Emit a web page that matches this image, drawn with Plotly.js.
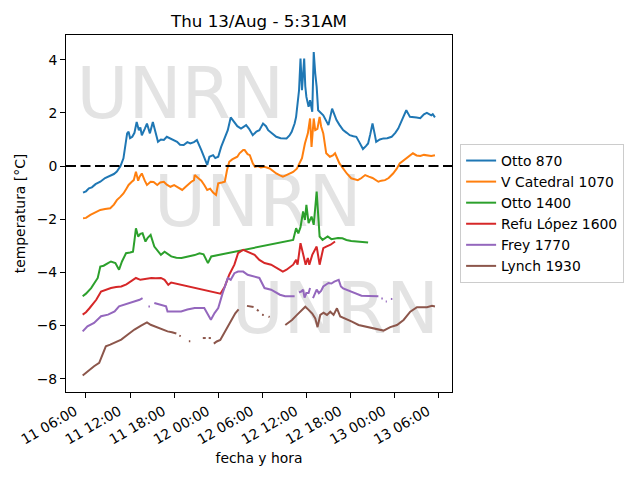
<!DOCTYPE html>
<html>
<head>
<meta charset="utf-8">
<script src="https://cdn.plot.ly/plotly-3.0.1.min.js"></script>
<style>html,body{margin:0;padding:0;background:#fff}#chart{width:640px;height:480px}</style>
</head>
<body>
<div id="chart"></div>
<script>
// Time values: hours since 2020-08-11 00:00 (local station time)
const seriesNames = ["Otto 870", "V Catedral 1070", "Otto 1400", "Refu López 1600", "Frey 1770", "Lynch 1930"];
const seriesColors = ["#1f77b4", "#ff7f0e", "#2ca02c", "#d62728", "#9467bd", "#8c564b"];

const otto870_h = [5.6,6.0,6.4,6.8,7.3,7.95,8.6,9.3,9.8,10.2,10.7,11.1,11.6,11.8,12.0,12.3,12.6,12.9,13.2,13.4,13.6,14.0,14.3,14.7,15.1,15.5,15.8,16.2,16.6,17.0,17.5,18.0,18.4,18.8,19.3,19.8,20.2,20.7,21.1,21.7,22.1,22.5,22.8,23.3,23.6,24.0,24.4,24.9,25.3,25.7,26.2,26.6,27.1,27.5,27.8,28.2,28.7,29.2,29.6,30.1,30.5,30.8,31.3,31.9,32.5,33.3,33.7,34.0,34.4,34.6,35.0,35.2,35.4,35.55,35.7,35.85,36.0,36.3,36.5,36.8,37.0,37.2,37.4,37.6,38.3,38.7,39.0,39.5,40.1,40.5,41.0,41.5,41.9,42.4,42.8,43.2,43.7,44.1,44.4,44.7,45.0,45.3,45.5,46.0,46.5,47.0,47.6,48.1,48.5,49.2,49.6,50.1,50.5,51.0,51.5,52.0,52.4,53.0,53.2,53.5];
const otto870_t = [-1.0,-0.95,-0.84,-0.80,-0.68,-0.59,-0.45,-0.38,-0.30,-0.21,0.0,0.29,1.23,1.29,1.05,1.10,1.25,1.66,1.35,1.45,1.16,1.40,1.60,1.23,1.66,1.23,0.91,1.00,0.98,1.10,1.04,0.95,0.91,0.80,0.79,0.90,0.85,0.90,0.98,0.60,0.35,0.04,0.35,0.41,0.30,0.35,0.72,1.10,1.35,1.83,1.66,1.50,1.41,1.50,1.54,1.40,1.16,1.30,1.35,1.60,1.50,1.35,1.25,1.10,1.05,1.04,1.15,1.29,1.60,1.85,2.85,4.04,2.85,3.5,4.04,3.0,2.6,2.23,2.48,2.04,4.29,3.5,2.98,2.10,1.91,1.70,1.54,2.16,1.73,1.55,1.35,1.25,1.16,1.12,1.10,0.90,0.64,0.75,0.85,1.2,1.60,1.2,0.91,1.00,1.04,1.05,1.10,1.25,1.41,1.85,2.10,1.85,1.85,1.83,1.80,1.95,2.00,1.91,1.95,1.83];

const catedral_h = [5.6,6.0,6.6,7.3,7.95,8.6,9.3,9.8,10.2,10.7,11.1,11.5,11.8,12.2,12.5,12.8,13.1,13.3,13.6,14.0,14.3,14.8,15.2,15.7,16.1,16.6,17.0,17.5,18.0,18.4,19.1,19.5,19.8,20.3,20.7,20.8,21.3,21.7,22.1,22.5,22.9,23.3,23.7,24.0,24.5,24.9,25.2,25.5,25.9,26.2,26.6,26.9,27.4,27.6,28.0,28.3,28.7,29.0,29.4,29.8,30.3,31.0,31.5,31.9,32.4,32.8,33.2,33.7,34.2,34.7,35.1,35.4,35.8,36.2,36.5,36.7,37.0,37.2,37.5,37.8,38.0,38.3,38.7,39.2,39.6,39.9,40.5,41.0,41.5,42.1,42.5,43.0,43.5,44.0,44.5,45.0,45.8,46.2,46.7,47.2,47.8,48.3,48.7,49.2,49.6,50.0,50.5,51.0,51.5,52.0,52.6,53.0,53.5];
const catedral_t = [-1.96,-1.95,-1.84,-1.75,-1.65,-1.62,-1.59,-1.45,-1.28,-1.15,-1.03,-0.85,-0.71,-0.60,-0.53,-0.21,-0.55,-0.40,-0.28,-0.55,-0.71,-0.59,-0.60,-0.71,-0.62,-0.59,-0.70,-0.78,-0.72,-0.78,-0.90,-0.80,-0.71,-0.60,-0.53,-0.34,-0.46,-0.55,-0.71,-0.90,-0.85,-1.00,-1.09,-0.65,-0.62,-0.59,-0.15,0.16,0.25,0.29,0.35,0.48,0.60,0.60,0.45,0.41,0.10,-0.03,0.0,-0.05,-0.03,-0.09,-0.20,-0.28,-0.35,-0.40,-0.35,-0.28,-0.22,-0.10,0.10,0.3,0.85,1.23,1.79,0.72,1.79,1.35,1.4,1.85,1.5,1.23,0.48,0.35,0.40,0.48,0.10,-0.10,-0.28,-0.46,-0.50,-0.53,-0.45,-0.34,-0.40,-0.45,-0.59,-0.55,-0.53,-0.45,-0.28,-0.10,0.10,0.20,0.29,0.35,0.48,0.40,0.38,0.42,0.41,0.38,0.41];

const otto1400_h = [5.55,6.0,6.7,7.2,7.6,7.95,8.4,9.0,9.4,10.0,10.5,10.9,11.45,12.0,12.4,12.6,12.8,13.1,13.4,13.7,14.1,14.4,14.8,15.3,15.7,16.2,16.7,17.1,17.6,18.3,19.0,19.6,20.1,20.8,21.45,22.0,22.6,23.05,34.2,34.6,34.9,35.2,35.55,35.8,36.0,36.3,36.7,37.0,37.4,37.8,38.2,38.6,38.9,39.4,40.3,40.9,41.45,42.1,42.8,43.5,44.4];
const otto1400_t = [-4.90,-4.80,-4.59,-4.40,-4.21,-3.78,-3.75,-3.65,-3.59,-3.65,-3.90,-3.59,-3.28,-3.25,-3.22,-2.80,-2.34,-2.65,-2.55,-2.53,-2.84,-2.70,-2.59,-3.03,-3.15,-3.34,-3.22,-3.30,-3.40,-3.45,-3.46,-3.42,-3.40,-3.35,-3.28,-3.32,-3.65,-3.40,-2.78,-2.34,-2.53,-2.3,-1.71,-2.03,-1.46,-2.15,-1.90,-2.21,-0.96,-2.65,-2.78,-2.70,-2.65,-2.75,-2.71,-2.72,-2.78,-2.82,-2.84,-2.86,-2.88];

const lopez_h = [5.55,6.0,6.5,7.0,7.4,8.05,8.7,9.4,10.1,10.8,11.5,12.1,12.8,13.4,14.1,14.9,15.5,16.2,16.7,17.2,17.6,24.3,24.9,25.5,26.2,26.7,27.4,28.0,28.95,29.6,30.3,31.2,32.1,32.8,33.3,34.2,34.6,34.8,35.2,35.5,35.9,36.2,36.4,36.8,37.4,37.8,38.3,38.7,39.3,39.9];
const lopez_t = [-5.59,-5.50,-5.34,-5.15,-5.03,-4.72,-4.65,-4.59,-4.55,-4.53,-4.45,-4.34,-4.21,-4.28,-4.25,-4.21,-4.22,-4.21,-4.28,-4.47,-4.38,-4.80,-4.53,-4.09,-3.71,-3.28,-3.15,-3.22,-3.34,-3.53,-3.65,-3.71,-3.84,-3.97,-3.90,-3.71,-3.53,-3.71,-2.90,-3.22,-3.71,-3.46,-3.71,-3.34,-3.03,-3.71,-3.09,-3.03,-2.96,-2.84];

const frey_h = [5.55,6.2,7.1,8.05,9.0,9.9,10.5,11.2,12.1,12.8,13.3,13.7,14.0,14.5,14.7,14.9,15.3,16.2,16.9,17.1,18.0,18.95,19.8,20.8,22.1,22.6,23.0,23.5,24.0,24.6,25.3,25.7,26.2,26.7,27.4,28.0,28.7,29.6,30.3,31.2,32.4,33.1,34.4,34.7,35.0,35.3,35.55,35.75,36.0,36.3,36.5,36.7,36.9,37.2,37.4,37.7,38.0,38.3,38.6,39.0,39.4,39.8,40.4,40.7,41.0,41.45,41.9,42.5,43.1,43.5,44.5,45.3,45.8,46.0,46.2,46.4,46.6,46.8,46.95,47.2,47.5,47.7];
const frey_t = [-6.22,-6.03,-5.90,-5.65,-5.59,-5.47,-5.28,-5.22,-5.15,-5.09,-5.03,-4.97,null,-5.28,-5.28,null,-5.15,-5.22,-5.28,-5.47,-5.47,-5.47,-5.40,-5.34,-5.34,-5.59,-5.78,-5.53,-5.34,-4.78,-4.21,-4.28,-4.03,-3.97,-3.97,-4.09,-4.15,-4.21,-4.59,-4.65,-4.84,-4.90,-4.90,null,-4.75,-4.72,-4.65,-4.95,-4.78,-4.78,-4.59,null,-4.97,-4.75,-4.65,-4.78,-4.70,-4.53,-4.47,-4.40,-4.42,-4.35,-4.28,-4.53,-4.60,-4.65,-4.72,-4.79,-4.85,-4.88,-4.89,-4.90,-4.90,null,-4.98,-4.98,null,-5.10,-5.10,null,-5.00,-5.00];

const lynch_h = [5.55,6.2,7.1,7.8,8.3,8.7,9.3,9.9,10.8,11.7,12.6,13.5,14.3,14.8,15.8,16.5,17.1,17.7,18.3,18.5,18.7,18.9,19.1,20.0,20.2,20.4,21.9,22.3,22.5,22.7,23.0,23.2,23.4,23.8,24.28,25.19,25.87,26.32,26.77,27.2,27.91,28.5,28.81,29.0,29.27,29.5,29.7,29.96,30.2,30.4,30.85,31.0,31.2,33.13,34.04,34.72,35.4,35.85,36.3,36.8,37.21,37.52,37.89,38.34,38.8,39.25,39.7,40.16,40.61,41.29,42.2,43.1,44.25,45.6,46.5,47.42,48.33,49.23,50.14,51.05,52.41,53.1,53.5];
const lynch_t = [-7.88,-7.72,-7.53,-7.40,-7.03,-6.78,-6.72,-6.65,-6.53,-6.34,-6.15,-6.00,-5.88,-5.97,-6.09,-6.15,-6.22,-6.25,-6.30,null,-6.38,-6.40,null,-6.59,-6.59,null,-6.47,-6.47,null,-6.47,-6.47,null,-6.68,-6.60,-6.54,-6.09,-5.79,-5.54,-5.39,null,-5.26,-5.28,-5.30,null,-5.40,-5.45,null,-5.59,-5.60,null,-5.66,-5.68,null,-5.98,-5.79,-5.60,-5.42,-5.29,-5.41,-5.55,-5.73,-6.06,-5.60,-5.52,-5.60,-5.48,-5.60,-5.35,-5.66,-5.73,-5.85,-5.98,-6.06,-6.14,-6.19,-6.06,-5.98,-5.79,-5.48,-5.31,-5.31,-5.26,-5.28];

const watermarkText = "UNRN";
const watermarkFrac = [[0.296, 0.818], [0.497, 0.516], [0.698, 0.214]];

const xRangeHours = [3.28, 55.82];
const yRange = [-8.5, 4.93];
const titleText = "Thu 13/Aug - 5:31AM";

const BASE = Date.UTC(2020, 7, 11, 0, 0, 0);
function pad(n) { return (n < 10 ? "0" : "") + n; }
function toDate(h) {
  const d = new Date(BASE + Math.round(h * 3600000));
  return d.getUTCFullYear() + "-" + pad(d.getUTCMonth() + 1) + "-" + pad(d.getUTCDate()) + " " +
    pad(d.getUTCHours()) + ":" + pad(d.getUTCMinutes()) + ":" + pad(d.getUTCSeconds());
}

const hoursList = [otto870_h, catedral_h, otto1400_h, lopez_h, frey_h, lynch_h];
const tempList = [otto870_t, catedral_t, otto1400_t, lopez_t, frey_t, lynch_t];

const FONT = "DejaVu Sans, Liberation Sans, sans-serif";

const traces = [];
// watermark text underneath the lines
traces.push({
  type: "scatter",
  mode: "text",
  x: watermarkFrac.map(f => toDate(xRangeHours[0] + f[0] * (xRangeHours[1] - xRangeHours[0]))),
  y: watermarkFrac.map(f => yRange[0] + f[1] * (yRange[1] - yRange[0])),
  text: watermarkFrac.map(() => watermarkText),
  textposition: "middle center",
  textfont: { family: FONT, size: 71, color: "#e3e3e3" },
  showlegend: false,
  hoverinfo: "skip",
  cliponaxis: false
});

for (let i = 0; i < seriesNames.length; i++) {
  traces.push({
    type: "scatter",
    mode: "lines",
    name: seriesNames[i],
    x: hoursList[i].map(toDate),
    y: tempList[i],
    connectgaps: false,
    line: { color: seriesColors[i], width: 2 }
  });
}

const layout = {
  width: 640,
  height: 480,
  paper_bgcolor: "#ffffff",
  plot_bgcolor: "#ffffff",
  margin: { l: 66, r: 188, t: 35, b: 88 },
  font: { family: FONT, size: 13.9, color: "#000" },
  title: {
    text: titleText,
    font: { family: FONT, size: 16.7, color: "#000" },
    x: 0.5, xref: "paper", xanchor: "center",
    y: 1 - 21 / 480, yref: "container", yanchor: "middle"
  },
  showlegend: true,
  legend: {
    x: 1.021, xanchor: "left", y: 0.5, yanchor: "middle",
    bordercolor: "#cccccc", borderwidth: 1, bgcolor: "#ffffff",
    font: { family: FONT, size: 13.9, color: "#000" },
    tracegroupgap: 0
  },
  xaxis: {
    type: "date",
    range: [toDate(xRangeHours[0]), toDate(xRangeHours[1])],
    tick0: toDate(0),
    dtick: 6 * 3600000,
    tickformat: "%d %H:%M",
    tickangle: -30,
    ticklabelshift: -11,
    ticks: "outside", ticklen: 5, tickwidth: 1, tickcolor: "#000",
    showline: true, mirror: true, linecolor: "#000", linewidth: 1,
    showgrid: false, zeroline: false,
    tickfont: { family: FONT, size: 13.9, color: "#000" },
    title: { text: "fecha y hora", font: { family: FONT, size: 13.9, color: "#000" }, standoff: 6 }
  },
  yaxis: {
    range: yRange,
    tick0: 0, dtick: 2,
    ticks: "outside", ticklen: 5, tickwidth: 1, tickcolor: "#000",
    showline: true, mirror: true, linecolor: "#000", linewidth: 1,
    showgrid: false, zeroline: false,
    tickfont: { family: FONT, size: 13.9, color: "#000" },
    title: { text: "temperatura [°C]", font: { family: FONT, size: 13.9, color: "#000" }, standoff: 7 }
  },
  shapes: [{
    type: "line", xref: "paper", x0: 0, x1: 1, yref: "y", y0: 0, y1: 0,
    line: { color: "#000", width: 2, dash: "10px,4.5px" },
    layer: "above"
  }]
};

Plotly.newPlot("chart", traces, layout, { staticPlot: true, displayModeBar: false });
</script>
</body>
</html>
